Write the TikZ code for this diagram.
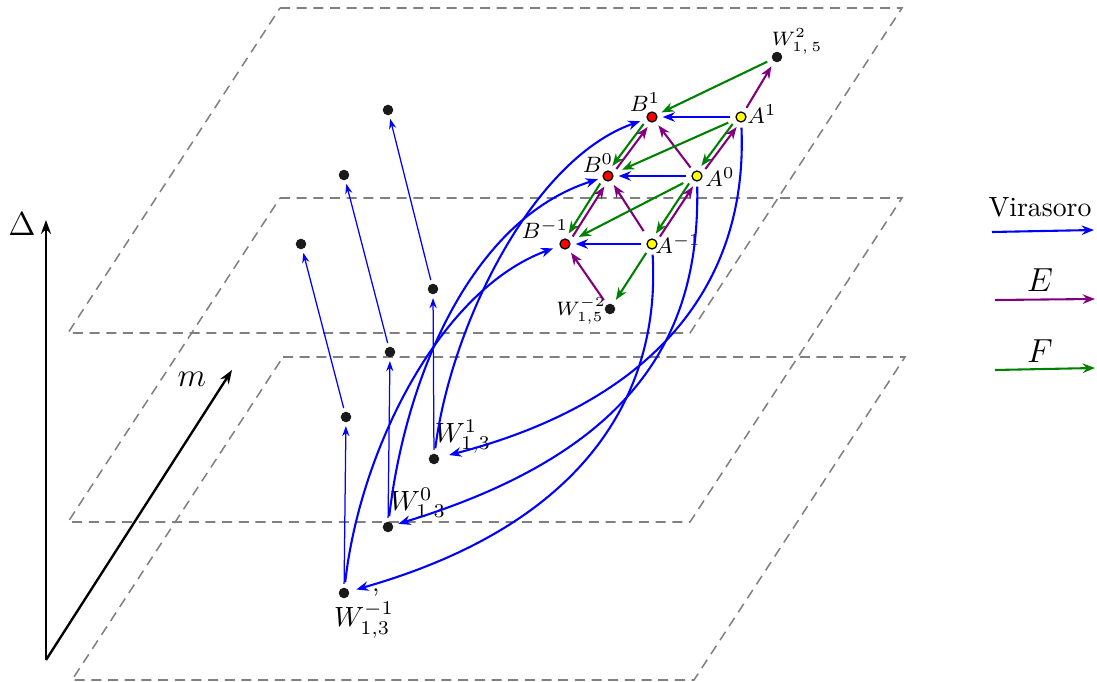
\documentclass[tikz,border=0pt]{standalone}
\usepackage{amsmath,amssymb}
\usepackage{xcolor}
\usepackage{tikz}
\usetikzlibrary{arrows.meta,positioning,calc}
\definecolor{vBlue}{HTML}{0000FF}
\definecolor{ePurple}{HTML}{800080}
\definecolor{fGreen}{HTML}{008000}
\definecolor{planeGray}{HTML}{808080}
\definecolor{bRed}{HTML}{FF0000}
\definecolor{aYellow}{HTML}{FFFF00}
\definecolor{dotInk}{HTML}{1A1A1A}
\tikzset{
  plane/.style={planeGray, line width=0.55pt, dash pattern=on 3.6pt off 2.4pt},
  axis/.style={-{Stealth[length=5pt,width=3.6pt]}, line width=0.85pt, black},
  wdot/.style={circle, fill=dotInk, inner sep=0pt, minimum size=3.8pt},
  bdot/.style={circle, draw=black, line width=0.45pt, fill=bRed,
               inner sep=0pt, minimum size=3.6pt},
  adot/.style={bdot, fill=aYellow},
  vir/.style={-{Stealth[length=4.4pt,width=3.4pt]}, line width=0.75pt, vBlue,
              shorten >=1.8pt, shorten <=1.8pt},
  virthin/.style={-{Stealth[length=3.6pt,width=2.6pt]}, line width=0.45pt, vBlue,
                  shorten >=1.2pt, shorten <=1.2pt},
  eop/.style={vir, ePurple},
  fop/.style={vir, fGreen},
  pairE/.style={eop, transform canvas={shift={(2,1.5)}}},
  pairF/.style={fop, transform canvas={shift={(-2,-1.5)}}},
  lab/.style={inner sep=1pt},
  slab/.style={lab, font=\scriptsize},
  flab/.style={lab, font=\footnotesize},
}

\begin{document}
\begin{tikzpicture}[x=0.01265cm, y=-0.01265cm]
  \useasboundingbox (0,0) rectangle (1097,682);
  % planes of constant Delta
  \draw[plane] (280,8) -- (902,8) -- (690,333) -- (68,333) -- cycle;
  \draw[plane] (280,198) -- (902,198) -- (690,522) -- (68,522) -- cycle;
  \draw[plane] (283,357) -- (905,357) -- (694,680) -- (72,680) -- cycle;

  % axes
  \coordinate (O) at (46,660);
  \coordinate (dEnd) at (46,220);
  \coordinate (mEnd) at (232,370);
  \draw[axis] (O) -- (dEnd);
  \draw[axis] (O) -- (mEnd);
  \node[font=\large] (dLab) at (22,224) {$\Delta$};
  \node[font=\large] (mLab) at (192,379) {$m$};

  % W_{1,3} tower
  \node[wdot] (W13p) at (434,459) {};
  \node[wdot] (W13z) at (388,527) {};
  \node[wdot] (W13m) at (344,593) {};
  \node[wdot] (Lp) at (433,289) {};
  \node[wdot] (Lz) at (390,352) {};
  \node[wdot] (Lm) at (346,417) {};
  \node[wdot] (Tp) at (388,110) {};
  \node[wdot] (Tz) at (344,175) {};
  \node[wdot] (Tm) at (301,244) {};
  \node[lab] (W13pLab) at (463,437) {$W^{1}_{1,3}$};
  \node[lab] (W13zLab) at (418,503) {$W^{0}_{1\;3}$};
  \node[lab] (W13mLab) at (364,620) {$W^{-1}_{1,3}$};
  \node[lab, font=\small] (comma) at (376,593) {$,$};

  \draw[virthin] (W13p) -- (Lp);
  \draw[virthin] (W13z) -- (Lz);
  \draw[virthin] (W13m) -- (Lm);
  \draw[virthin] (Lp) -- (Tp);
  \draw[virthin] (Lz) -- (Tz);
  \draw[virthin] (Lm) -- (Tm);

  % A, B cluster
  \node[bdot] (B1) at (652,117) {};
  \node[bdot] (B0) at (608,176) {};
  \node[bdot] (Bm1) at (565,244) {};
  \node[adot] (A1) at (741,117) {};
  \node[adot] (A0) at (697,176) {};
  \node[adot] (Am1) at (652,244) {};
  \node[wdot] (W15p) at (777,57) {};
  \node[wdot] (W15m) at (610,309) {};
  \node[flab] (B1Lab) at (645,102) {$B^{1}$};
  \node[flab] (B0Lab) at (598,163) {$B^{0}$};
  \node[flab] (Bm1Lab) at (545,229) {$B^{-1}$};
  \node[flab] (A1Lab) at (762,114) {$A^{1}$};
  \node[flab] (A0Lab) at (720,177) {$A^{0}$};
  \node[flab] (Am1Lab) at (678,244) {$A^{-1}$};
  \node[slab] (W15pLab) at (797,41) {$W^{2}_{1,\,5}$};
  \node[slab] (W15mLab) at (581,311) {$W^{-2}_{1,5}$};

  \draw[vir] (A1) -- (B1);
  \draw[vir] (A0) -- (B0);
  \draw[vir] (Am1) -- (Bm1);
  \draw[eop] (A1) -- (W15p);
  \draw[fop] (W15p) -- (B1);
  \draw[pairF] (B1) -- (B0);
  \draw[pairE] (B0) -- (B1);
  \draw[pairF] (B0) -- (Bm1);
  \draw[pairE] (Bm1) -- (B0);
  \draw[pairF] (A1) -- (A0);
  \draw[pairE] (A0) -- (A1);
  \draw[pairF] (A0) -- (Am1);
  \draw[pairE] (Am1) -- (A0);
  \draw[eop] (A0) -- (B1);
  \draw[eop, shorten <=3.5pt] (Am1) -- (B0);
  \draw[fop, shorten >=3.5pt, shorten <=3pt] (A1) -- (B0);
  \draw[fop, shorten >=3.5pt, shorten <=3.5pt] (A0) -- (Bm1);
  \draw[eop] (W15m) -- (Bm1);
  \draw[fop] (Am1) -- (W15m);

  % Virasoro maps between the towers
  \draw[vir, shorten >=2.5pt] (W13p) .. controls (450,330) and (530,160) .. (B1);
  \draw[vir] (W13z) .. controls (405,380) and (470,220) .. (B0);
  \draw[vir, shorten >=2.5pt] (W13m) .. controls (360,450) and (440,290) .. (Bm1);
  \draw[vir, shorten >=3.5pt] (A1) .. controls (748,280) and (660,400) .. (W13p);
  \draw[vir] (A0) .. controls (700,330) and (640,450) .. (W13z);
  \draw[vir, shorten >=2.5pt] (Am1) .. controls (660,380) and (600,520) .. (W13m);

  % legend
  \node (virLab) at (1040,207) {Virasoro};
  \coordinate (v0) at (992,232);
  \coordinate (v1) at (1094,230);
  \draw[vir, shorten >=0pt, shorten <=0pt] (v0) -- (v1);
  \node[font=\large] (eLab) at (1040,280) {$E$};
  \coordinate (e0) at (995,300);
  \coordinate (e1) at (1095,299);
  \draw[eop, shorten >=0pt, shorten <=0pt] (e0) -- (e1);
  \node[font=\large] (fLab) at (1040,351) {$F$};
  \coordinate (f0) at (995,370);
  \coordinate (f1) at (1095,368);
  \draw[fop, shorten >=0pt, shorten <=0pt] (f0) -- (f1);
\end{tikzpicture}
\end{document}
